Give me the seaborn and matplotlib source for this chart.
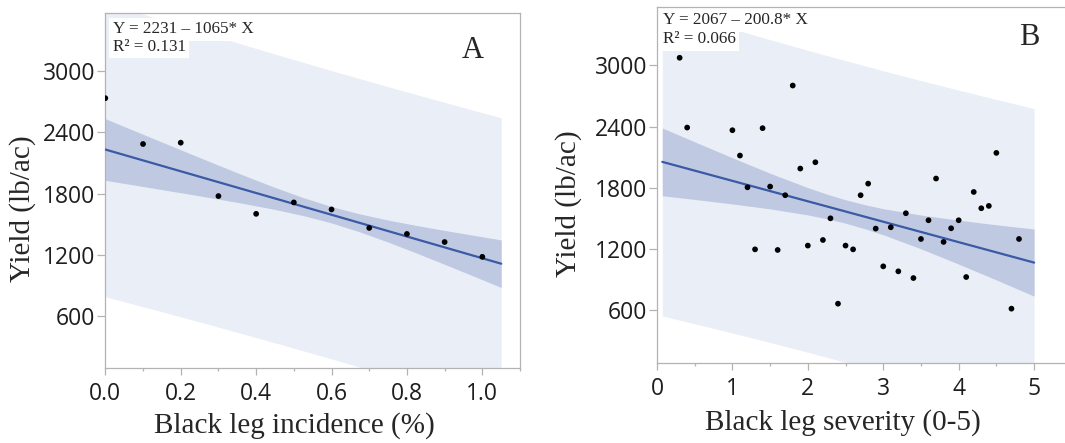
import numpy as np
import pandas as pd
import matplotlib
matplotlib.use("Agg")
import matplotlib.pyplot as plt
from matplotlib.ticker import MultipleLocator, FormatStrFormatter
import seaborn as sns

# ---- panel A : black leg incidence ----
inc_x = [0.0, 0.1, 0.2, 0.3, 0.4, 0.5, 0.6, 0.7, 0.8, 0.9, 1.0]
inc_y = [2734, 2285, 2298, 1775, 1601, 1713, 1644, 1463, 1404, 1325, 1180]
inc_b0, inc_b1 = 2231, -1065
# band half widths (confidence / prediction)
inc_band_x = [0, 0.075, 0.15, 0.225, 0.3, 0.375, 0.45, 0.525, 0.6, 0.675, 0.75, 0.825, 0.9, 0.975, 1.05]
inc_ci = [302, 267, 233, 199, 166, 135, 108, 88, 80, 88, 108, 135, 166, 199, 233]
inc_pi = [1442, 1435, 1429, 1424, 1420, 1417, 1414, 1413, 1412, 1413, 1414, 1417, 1420, 1424, 1429]

# ---- panel B : black leg severity ----
sev_x = [0.3, 0.4, 1.0, 1.1, 1.2, 1.3, 1.4, 1.5, 1.6, 1.7, 1.8, 1.9, 2.0, 2.1, 2.2, 2.3, 2.4, 2.5, 2.6, 2.7,
         2.8, 2.9, 3.0, 3.1, 3.2, 3.3, 3.4, 3.5, 3.6, 3.7, 3.8, 3.9, 4.0, 4.1, 4.2, 4.3, 4.4, 4.5, 4.7, 4.8]
sev_y = [3076, 2390, 2364, 2115, 1803, 1193, 2384, 1810, 1187, 1725, 2803, 1987, 1230, 2049, 1285, 1498, 659, 1230, 1193, 1725,
         1839, 1397, 1026, 1410, 977, 1548, 911, 1295, 1479, 1889, 1266, 1400, 1479, 921, 1757, 1597, 1620, 2141, 610, 1295]
sev_b0, sev_b1 = 2067, -200.8
sev_band_x = [0.07, 0.5, 1.0, 1.5, 2.0, 2.25, 2.5, 2.75, 3.0, 3.5, 4.0, 4.5, 5.0]
sev_ci = [333, 283, 227, 175, 134, 121, 115, 118, 128, 166, 216, 271, 330]
sev_pi = [1515, 1505, 1495, 1488, 1484, 1483, 1483, 1483, 1484, 1487, 1494, 1503, 1514]

y_ticks = [600, 1200, 1800, 2400, 3000]

sns.set_style("white")
plt.rcParams["font.family"] = ["Open Sans", "DejaVu Sans"]
serif = ["Liberation Serif", "DejaVu Serif"]

light = "#eaeef6"
dark = "#c0c9e2"
blue = "#3a5aa6"
grey = "#b3b3b3"

fig = plt.figure(figsize=(10.65, 4.43), dpi=100)
ax1 = fig.add_axes([0.0989, 0.1686, 0.3894, 0.8027])
ax2 = fig.add_axes([0.6169, 0.1799, 0.3831, 0.8050])


def panel(ax, x, y, b0, b1, bx, ci, pi):
    bx = np.array(bx)
    fit = b0 + b1 * bx
    ax.fill_between(bx, fit - np.array(pi), fit + np.array(pi), color=light, lw=0, zorder=1)
    ax.fill_between(bx, fit - np.array(ci), fit + np.array(ci), color=dark, lw=0, zorder=2)
    sns.lineplot(x=bx, y=fit, color=blue, lw=1.6, ax=ax, zorder=3)
    df = pd.DataFrame({"x": x, "y": y})
    sns.scatterplot(data=df, x="x", y="y", color="black", s=17, edgecolor="none", ax=ax, zorder=4)
    ax.set_yticks(y_ticks)
    for s in ax.spines.values():
        s.set_color(grey)
        s.set_linewidth(0.9)
    ax.tick_params(axis="both", which="both", direction="out", color=grey, labelsize=16.5,
                   labelcolor="#1e1e1e")
    ax.tick_params(axis="y", which="major", length=5.5, width=0.9, pad=1.5, left=True)
    ax.tick_params(axis="x", which="major", length=5, width=0.9, pad=5, bottom=True)
    ax.tick_params(axis="x", which="minor", length=2.5, width=0.9, bottom=True)


panel(ax1, inc_x, inc_y, inc_b0, inc_b1, inc_band_x, inc_ci, inc_pi)
panel(ax2, sev_x, sev_y, sev_b0, sev_b1, sev_band_x, sev_ci, sev_pi)

ax1.set_xlim(0, 1.1)
ax1.set_ylim(88, 3571)
ax1.xaxis.set_major_locator(MultipleLocator(0.2))
ax1.xaxis.set_minor_locator(MultipleLocator(0.1))
ax1.xaxis.set_major_formatter(FormatStrFormatter("%.1f"))

ax2.set_xlim(0, 5.41)
ax2.set_ylim(73, 3578)
ax2.set_xticks([0, 1, 2, 3, 4, 5])
ax2.xaxis.set_minor_locator(MultipleLocator(0.5))
ax2.spines["right"].set_visible(False)

# labels
ax1.set_xlabel("Black leg incidence (%)", family=serif, fontsize=21)
ax1.set_ylabel("Yield (lb/ac)", family=serif, fontsize=21)
ax2.set_xlabel("Black leg severity (0-5)", family=serif, fontsize=21)
ax2.set_ylabel("Yield (lb/ac)", family=serif, fontsize=21)
for ax, xl, yl in [(ax1, (0.455, -0.162), (-0.1985, 0.448)), (ax2, (0.456, -0.166), (-0.216, 0.447))]:
    ax.xaxis.label.set_va("center")
    ax.yaxis.label.set_va("center")
    ax.xaxis.set_label_coords(*xl)
    ax.yaxis.set_label_coords(*yl)

box = dict(facecolor="white", edgecolor="none", pad=2.5)
ax1.text(0.018, 0.953, "Y = 2231 \u2013 1065* X", transform=ax1.transAxes, family=serif,
         fontsize=12.3, va="center", ha="left", bbox=box, zorder=5)
ax1.text(0.018, 0.904, "R\u00b2 = 0.131", transform=ax1.transAxes, family=serif,
         fontsize=12.3, va="center", ha="left", bbox=box, zorder=5)
ax2.text(0.0147, 0.962, "Y = 2067 \u2013 200.8* X", transform=ax2.transAxes, family=serif,
         fontsize=12.3, va="center", ha="left", bbox=box, zorder=5)
ax2.text(0.0147, 0.9086, "R\u00b2 = 0.066", transform=ax2.transAxes, family=serif,
         fontsize=12.3, va="center", ha="left", bbox=box, zorder=5)

ax1.text(0.887, 0.895, "A", transform=ax1.transAxes, family=serif, fontsize=22,
         ha="center", va="center", zorder=5)
ax2.text(0.912, 0.915, "B", transform=ax2.transAxes, family=serif, fontsize=22,
         ha="center", va="center", zorder=5)

fig.savefig("out.png", dpi=100)
